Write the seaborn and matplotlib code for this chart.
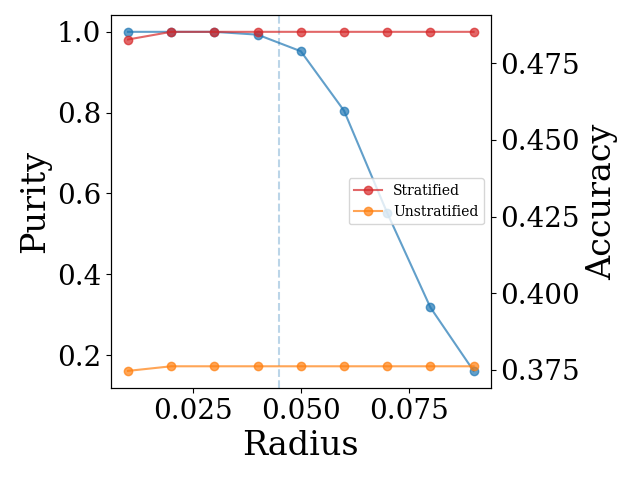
import matplotlib
matplotlib.use("Agg")
import matplotlib.pyplot as plt
import seaborn as sns
import pandas as pd

plt.rcParams['font.family'] = ['DejaVu Serif']

# values
radius = [0.01, 0.02, 0.03, 0.04, 0.05, 0.06, 0.07, 0.08, 0.09]
purity = [1.0, 1.0, 1.0, 0.993, 0.952, 0.805, 0.552, 0.318, 0.161]
acc_stratified = [0.4827, 0.4852, 0.4852, 0.4852, 0.4852, 0.4852, 0.4852, 0.4852, 0.4852]
acc_unstratified = [0.3747, 0.3762, 0.3762, 0.3762, 0.3762, 0.3762, 0.3762, 0.3762, 0.3762]
chosen_radius = 0.045

df = pd.DataFrame({
    'Radius': radius,
    'Purity': purity,
    'Stratified': acc_stratified,
    'Unstratified': acc_unstratified,
})

fig, ax = plt.subplots(figsize=(6.4, 4.8), dpi=100)

sns.lineplot(data=df, x='Radius', y='Purity', ax=ax, color='tab:blue', alpha=0.7,
             marker='o', markersize=6, markeredgewidth=1, markeredgecolor='tab:blue')
ax.axvline(chosen_radius, color='tab:blue', alpha=0.3, linestyle='--')
ax.set_xlabel('Radius', fontsize=24)
ax.set_ylabel('Purity', fontsize=24)
ax.tick_params(labelsize=20)

ax2 = ax.twinx()
sns.lineplot(data=df, x='Radius', y='Stratified', ax=ax2, color='tab:red', alpha=0.7,
             marker='o', markersize=6, markeredgewidth=1, markeredgecolor='tab:red',
             label='Stratified')
sns.lineplot(data=df, x='Radius', y='Unstratified', ax=ax2, color='tab:orange', alpha=0.7,
             marker='o', markersize=6, markeredgewidth=1, markeredgecolor='tab:orange',
             label='Unstratified')
ax2.set_ylabel('Accuracy', fontsize=24)
ax2.tick_params(labelsize=20)
ax2.legend(loc='center right', fontsize=10)

plt.subplots_adjust(left=0.173, right=0.767, top=0.969, bottom=0.192)
plt.savefig('out.png', dpi=100)
